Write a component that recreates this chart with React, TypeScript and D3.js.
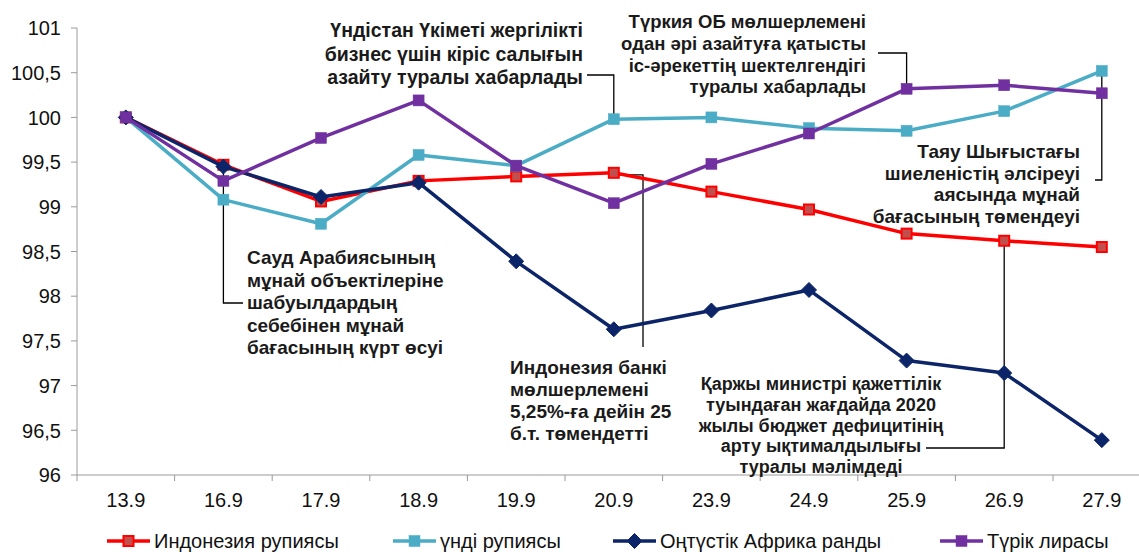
import React from "react";
import * as d3 from "d3";

const categories = ["13.9", "16.9", "17.9", "18.9", "19.9", "20.9", "23.9", "24.9", "25.9", "26.9", "27.9"];
const indonesia = [100, 99.47, 99.06, 99.29, 99.34, 99.38, 99.17, 98.97, 98.7, 98.62, 98.55];
const india = [100, 99.08, 98.81, 99.58, 99.46, 99.98, 100.0, 99.88, 99.85, 100.07, 100.52];
const southAfrica = [100, 99.45, 99.11, 99.27, 98.39, 97.63, 97.84, 98.07, 97.28, 97.14, 96.39];
const turkey = [100, 99.29, 99.77, 100.19, 99.46, 99.04, 99.48, 99.82, 100.32, 100.36, 100.27];
const yTicks = [96, 96.5, 97, 97.5, 98, 98.5, 99, 99.5, 100, 100.5, 101];
const seriesNames = ["Индонезия рупиясы", "үнді рупиясы", "Оңтүстік Африка ранды", "Түрік лирасы"];

const W = 1139;
const H = 552;
const FONT = "'Liberation Sans', Arial, sans-serif";

type Marker = "square" | "diamond";
interface Series {
  name: string;
  values: number[];
  color: string;
  fill: string;
  marker: Marker;
  size: number;
}

const series: Series[] = [
  { name: seriesNames[0], values: indonesia, color: "#FF0000", fill: "#C0504D", marker: "square", size: 10 },
  { name: seriesNames[1], values: india, color: "#4BACC6", fill: "#4BACC6", marker: "square", size: 11 },
  { name: seriesNames[2], values: southAfrica, color: "#0C2468", fill: "#0C2468", marker: "diamond", size: 13 },
  { name: seriesNames[3], values: turkey, color: "#7030A0", fill: "#7030A0", marker: "square", size: 11 },
];

function MarkerShape({ s, x, y }: { s: Series; x: number; y: number }) {
  if (s.marker === "diamond") {
    const r = s.size / 2 + 1;
    return <path d={`M${x},${y - r}L${x + r},${y}L${x},${y + r}L${x - r},${y}Z`} fill={s.fill} stroke={s.color} strokeWidth={1} />;
  }
  const h = s.size / 2;
  const sw = s.name === seriesNames[0] ? 2 : 0.5;
  return <rect x={x - h} y={y - h} width={s.size} height={s.size} fill={s.fill} stroke={s.color} strokeWidth={sw} />;
}

export default function App() {
  const plotLeft = 77;
  const step = 97.6;
  const x = d3.scaleBand<string>().domain(categories).range([plotLeft, plotLeft + step * categories.length]).padding(0);
  const cx = (c: string) => (x(c) as number) + x.bandwidth() / 2;
  const y = d3.scaleLinear().domain([96, 101]).range([475, 28]);
  const line = d3
    .line<number>()
    .x((_, i) => cx(categories[i]))
    .y((v) => y(v));

  const boundaries = d3.range(categories.length + 1).map((i) => plotLeft + i * x.bandwidth());

  const ann = (lines: string[], ax: number, ay: number, anchor: "start" | "middle" | "end", lh: number, fs = 19) => (
    <text x={ax} y={ay} textAnchor={anchor} style={{ fontFamily: FONT, fontSize: fs, fontWeight: 700, fill: "#1a1a1a" }}>
      {lines.map((l, i) => (
        <tspan key={i} x={ax} y={ay + i * lh}>
          {l}
        </tspan>
      ))}
    </text>
  );

  const c16 = cx("16.9");
  const c20 = cx("20.9");
  const c25 = cx("25.9");
  const c26 = cx("26.9");
  const c27 = cx("27.9");

  const legendItems = [
    { s: series[0], x0: 107 },
    { s: series[1], x0: 393 },
    { s: series[2], x0: 613 },
    { s: series[3], x0: 940 },
  ];

  const tickStyle = { fontFamily: FONT, fontSize: 20, fill: "#111" } as const;

  return (
    <svg width={W} height={H} style={{ position: "absolute", left: 0, top: 0, background: "#fff" }}>
      <rect width={W} height={H} fill="#fff" />
      {/* Y axis */}
      <line x1={plotLeft} x2={plotLeft} y1={y(101)} y2={y(96)} stroke="#9a9a9a" strokeWidth={1} />
      {yTicks.map((t) => (
        <g key={t}>
          <line x1={plotLeft - 6} x2={plotLeft} y1={y(t)} y2={y(t)} stroke="#9a9a9a" />
          <text x={61} y={y(t)} dy="0.36em" textAnchor="end" style={tickStyle}>
            {String(t).replace(".", ",")}
          </text>
        </g>
      ))}
      {/* X axis */}
      <line x1={plotLeft} x2={W} y1={y(96)} y2={y(96)} stroke="#9a9a9a" />
      {boundaries.map((b, i) => (
        <line key={i} x1={b} x2={b} y1={y(96)} y2={y(96) + 6} stroke="#9a9a9a" />
      ))}
      {categories.map((c) => (
        <text key={c} x={cx(c)} y={507} textAnchor="middle" style={tickStyle}>
          {c}
        </text>
      ))}

      {/* connectors */}
      <g stroke="#000" strokeWidth={1.3} fill="none">
        <polyline points={`${c16},${y(southAfrica[1])} ${c16},303 243,303`} />
        <polyline points={`587,75 ${c20},75 ${c20},${y(india[5])}`} />
        <polyline points={`${c20},${y(indonesia[5]) + 2} 643,${y(indonesia[5]) + 2} 643,347`} />
        <polyline points={`878,53 ${c25},53 ${c25},${y(turkey[8])}`} />
        <polyline points={`${c27},${y(india[10])} ${c27},180 1095,180`} />
        <polyline points={`${c26},${y(indonesia[9])} ${c26},448 926,448`} />
      </g>

      {/* series */}
      {series.map((s) => (
        <g key={s.name}>
          <path d={line(s.values) || ""} fill="none" stroke={s.color} strokeWidth={3.5} strokeLinejoin="round" />
          {s.values.map((v, i) => (
            <MarkerShape key={i} s={s} x={cx(categories[i])} y={y(v)} />
          ))}
        </g>
      ))}

      {/* annotations */}
      {ann(["Үндістан Үкіметі жергілікті", "бизнес үшін кіріс салығын", "азайту туралы хабарлады"], 583, 37, "end", 23.5, 19.5)}
      {ann(["Түркия ОБ мөлшерлемені", "одан әрі азайтуға қатысты", "іс-әрекеттің шектелгендігі", "туралы хабарлады"], 866, 28, "end", 21.8, 18.5)}
      {ann(["Таяу Шығыстағы", "шиеленістің әлсіреуі", "аясында мұнай", "бағасының төмендеуі"], 1080, 158, "end", 21.5)}
      {ann(["Сауд Арабиясының", "мұнай объектілеріне", "шабуылдардың", "себебінен мұнай", "бағасының күрт өсуі"], 247, 264, "start", 22.5)}
      {ann(["Индонезия банкі", "мөлшерлемені", "5,25%-ға дейін 25", "б.т. төмендетті"], 510, 374, "start", 22)}
      {ann(["Қаржы министрі қажеттілік", "туындаған жағдайда 2020", "жылы бюджет дефицитінің", "арту ықтималдылығы", "туралы мәлімдеді"], 821, 390, "middle", 20.8, 18)}

      {/* legend */}
      {legendItems.map(({ s, x0 }) => (
        <g key={s.name}>
          <line x1={x0} x2={x0 + 43} y1={541} y2={541} stroke={s.color} strokeWidth={3.5} />
          <MarkerShape s={s} x={x0 + 21.5} y={541} />
          <text x={x0 + 47} y={541} dy="0.36em" style={tickStyle}>
            {s.name}
          </text>
        </g>
      ))}
    </svg>
  );
}
